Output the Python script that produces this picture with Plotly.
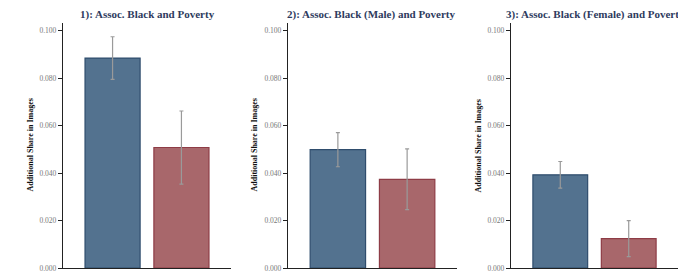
import plotly.graph_objects as go

titles = ["1): Assoc. Black and Poverty",
          "2): Assoc. Black (Male) and Poverty",
          "3): Assoc. Black (Female) and Poverty"]
groups = ["Black", "White"]
values = [[0.0885, 0.0508], [0.0499, 0.0374], [0.0393, 0.0124]]
errors = [[0.0090, 0.0154], [0.0072, 0.0128], [0.0056, 0.0076]]
y_ticks = [0.0, 0.02, 0.04, 0.06, 0.08, 0.10]
y_tick_text = ["0.000", "0.020", "0.040", "0.060", "0.080", "0.100"]
y_label = "Additional Share in Images"

W, H = 678, 275
fill_colors = ["#53728f", "#a8676b"]
line_colors = ["#2f4d6d", "#8e3c46"]
domains = [(63 / W, 231 / W), (288 / W, 457 / W), (511 / W, 1.0)]

fig = go.Figure()
font_fam = "Liberation Serif, DejaVu Serif, serif"
for i in range(3):
    xa = "x" if i == 0 else f"x{i+1}"
    ya = "y" if i == 0 else f"y{i+1}"
    fig.add_trace(go.Bar(
        x=groups, y=values[i], xaxis=xa, yaxis=ya, width=0.8,
        marker=dict(color=fill_colors, line=dict(color=line_colors, width=1.2)),
        error_y=dict(type="data", array=errors[i], color="#9a9a9a", thickness=1.2, width=2),
        showlegend=False))
    xkey = "xaxis" if i == 0 else f"xaxis{i+1}"
    ykey = "yaxis" if i == 0 else f"yaxis{i+1}"
    fig.layout[xkey] = dict(domain=list(domains[i]), anchor=ya, type="category",
                            range=[-0.72, 1.72], showticklabels=False, ticks="",
                            showline=True, linecolor="#222", linewidth=1.3,
                            showgrid=False, zeroline=False, fixedrange=True)
    fig.layout[ykey] = dict(domain=[0, 1], anchor=xa, range=[0, 0.1033],
                            tickvals=y_ticks, ticktext=y_tick_text,
                            ticks="outside", ticklen=4, tickwidth=1, tickcolor="#222",
                            tickfont=dict(family=font_fam, size=7.5, color="#777"),
                            showline=True, linecolor="#222", linewidth=1.3,
                            showgrid=False, zeroline=False)
    fig.add_annotation(text="<b>" + titles[i] + "</b>", xref="paper", yref="paper",
                       x=(147 + 224 * i) / W, xanchor="center",
                       y=1 + 9 / 245, yanchor="middle", showarrow=False,
                       font=dict(family=font_fam, size=11, color="#2e3b5e"))
    fig.add_annotation(text="<b>" + y_label + "</b>", xref="paper", yref="paper",
                       x=(30 + 224 * i) / W, xanchor="center", y=0.5, yanchor="middle",
                       textangle=-90, showarrow=False,
                       font=dict(family=font_fam, size=8, color="#111"))

fig.update_layout(width=W, height=H, margin=dict(l=0, r=0, t=23, b=7),
                  paper_bgcolor="white", plot_bgcolor="white", bargap=0.2)
fig.write_html("out.html", config={"displayModeBar": False},
               post_script="document.body.style.margin='0';")
